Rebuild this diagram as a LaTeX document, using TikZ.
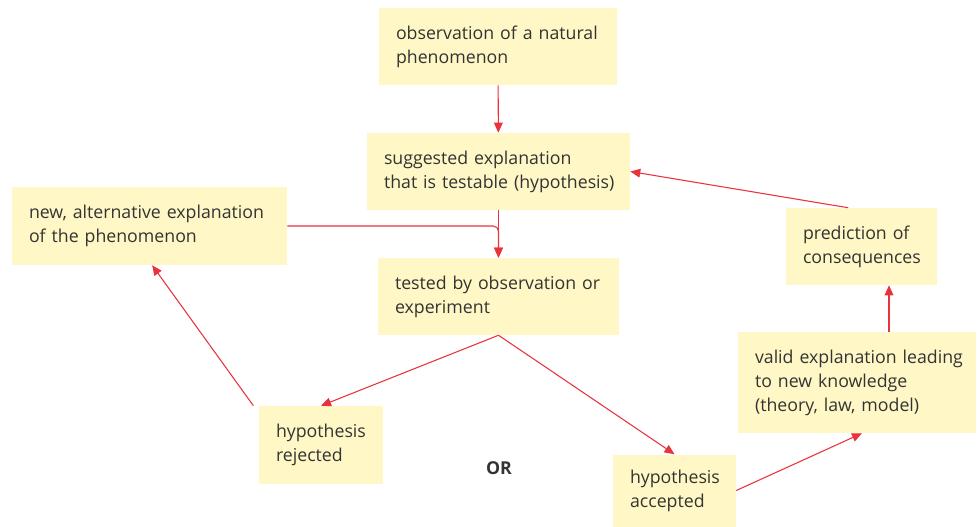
\documentclass[tikz,border=0pt]{standalone}
\usepackage{fontspec}
\setmainfont{Open Sans}
\usetikzlibrary{arrows.meta,calc}
\definecolor{boxfill}{HTML}{FFF8C6}
\definecolor{arrred}{HTML}{E8333B}
\definecolor{txt}{HTML}{333333}
\newcommand{\tline}[1]{\mbox{#1}}
\begin{document}
\begin{tikzpicture}[x=0.75pt,y=-0.75pt,
  box/.style={fill=boxfill, draw=none, align=left, font=\fontsize{13.3pt}{18pt}\selectfont, text=txt, inner xsep=12.75pt, inner ysep=0pt, anchor=center},
  arr/.style={draw=arrred, line width=0.8pt, -{Triangle[length=7.5pt,width=6.5pt]}}]
\useasboundingbox (0,0) rectangle (977,527);
\node[box, minimum width=178.5pt, minimum height=57.75pt, text width=153pt] (obs) at (498,46.5) {\tline{observation of a natural}\\\tline{phenomenon}};
\node[box, minimum width=197.25pt, minimum height=57.75pt, text width=171.75pt] (sugg) at (498.5,171.5) {\tline{suggested explanation}\\\tline{that is testable (hypothesis)}};
\node[box, minimum width=206.25pt, minimum height=58.5pt, text width=180.75pt] (alt) at (149.5,226) {\tline{new, alternative explanation}\\\tline{of the phenomenon}};
\node[box, minimum width=180.75pt, minimum height=57.75pt, text width=155.25pt] (test) at (498.5,296.5) {\tline{tested by observation or}\\\tline{experiment}};
\node[box, minimum width=113.25pt, minimum height=57.75pt, text width=87.75pt] (pred) at (861.5,246.5) {\tline{prediction of}\\\tline{consequences}};
\node[box, minimum width=178.5pt, minimum height=75.75pt, text width=153pt] (valid) at (857,382.5) {\tline{valid explanation leading}\\\tline{to new knowledge}\\\tline{(theory, law, model)}};
\node[box, minimum width=93pt, minimum height=58.5pt, text width=67.5pt] (rej) at (321,445) {\tline{hypothesis}\\\tline{rejected}};
\node[box, minimum width=92.25pt, minimum height=54pt, text width=66.75pt] (acc) at (674.5,490.5) {\tline{hypothesis}\\\tline{accepted}};
\node[font=\fontsize{13.3pt}{15pt}\selectfont\bfseries, text=txt] (or) at (499,468) {OR};
\draw[arr] (obs) -- (sugg);
\draw[arr] (sugg.south) -- (test.north);
\draw[arr, rounded corners=4pt] (alt.east) -| (test.north);
\draw[arr] (test.south) -- (rej.north);
\draw[arr] (test.south) -- (acc.north);
\draw[arr] ([xshift=-4pt]rej.north west) -- ([xshift=2pt]alt.south);
\draw[arr] (acc.east) -- ([xshift=3.75pt]valid.south);
\draw[arr] ([xshift=24pt]valid.north) -- ([xshift=24pt]valid.north |- pred.south);
\draw[arr] ([xshift=-10pt]pred.north) -- (sugg.east);
\end{tikzpicture}
\end{document}
